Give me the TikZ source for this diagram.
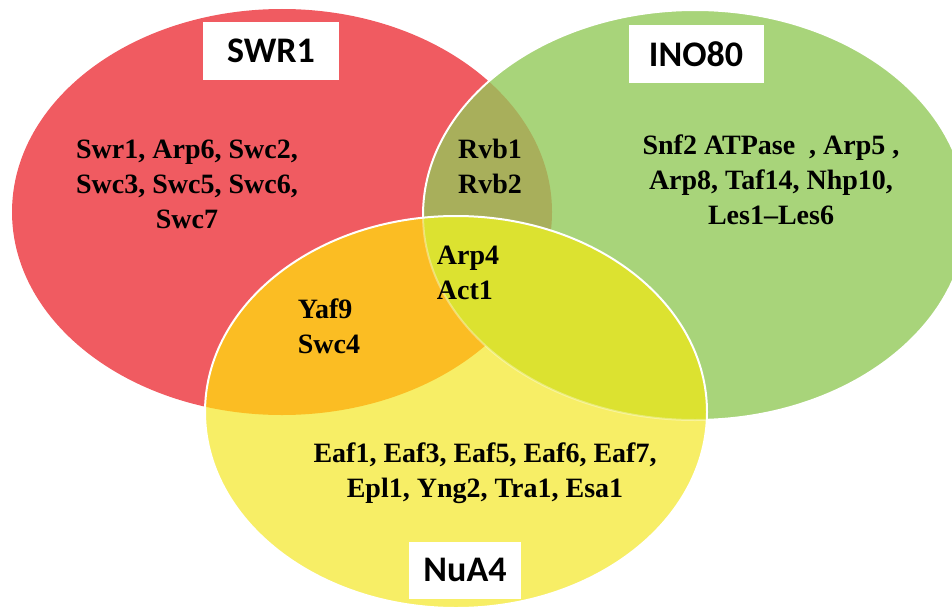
\documentclass[tikz,border=0pt]{standalone}
\usepackage{fontspec}
\setmainfont{Liberation Serif}
\newfontfamily\boxfont{Carlito}
\definecolor{swrred}{HTML}{F05B61}
\definecolor{inogreen}{HTML}{A8D47A}
\definecolor{nuayellow}{HTML}{F7EE66}
\definecolor{swrnua}{HTML}{FBBD23}
\definecolor{swrino}{HTML}{A8AF5B}
\definecolor{inonua}{HTML}{DCE230}
\begin{document}
\begin{tikzpicture}[x=1pt, y=-1pt,
    every node/.style={font=\bfseries\fontsize{28}{35}\selectfont, align=center},
    swrset/.style={insert path={(282,212) ellipse [x radius=270, y radius=203]}},
    inoset/.style={insert path={(695,215) ellipse [x radius=272, y radius=205]}},
    nuaset/.style={insert path={(456,412) ellipse [x radius=251, y radius=196]}},
    edge/.style={draw=white, line width=2pt},
    setname/.style={fill=white, font=\boxfont\bfseries\fontsize{36}{40}\selectfont,
      minimum width=136pt, minimum height=57pt, inner sep=0pt}]
    \useasboundingbox (0,0) rectangle (952,610);
    \clip (0,0) rectangle (952,610);
    % the three sets
    \fill[swrred, swrset];
    \fill[inogreen, inoset];
    \begin{scope}
      \clip[swrset];
      \fill[swrino, inoset];
    \end{scope}
    \path[edge, inoset];
    \fill[nuayellow, nuaset];
    \begin{scope}
      \clip[nuaset];
      \fill[swrnua, swrset];
      \fill[inonua, inoset];
      \path[edge, draw opacity=0.35, inoset];
    \end{scope}
    \path[edge, nuaset];
    % set names
    \node[setname] (swr) at (271, 51) {SWR1};
    \node[setname, minimum width=135pt] (ino) at (696, 54) {INO80};
    \node[setname, minimum width=112pt] (nua) at (465, 570) {NuA4};
    % members
    \node (swronly) at (187, 184) {Swr1, Arp6, Swc2,\\Swc3, Swc5, Swc6,\\Swc7};
    \node (inoonly) at (771, 180) {Snf2 ATPase\ \ , Arp5 ,\\Arp8, Taf14, Nhp10,\\Les1--Les6};
    \node (nuaonly) at (485, 473) {Eaf1, Eaf3, Eaf5, Eaf6, Eaf7,\\Epl1, Yng2, Tra1, Esa1};
    \node[align=left] (rvb) at (490, 166) {Rvb1\\Rvb2};
    \node[align=left] (arp) at (468, 273) {Arp4\\Act1};
    \node[align=left] (yaf) at (329, 326) {Yaf9\\Swc4};
\end{tikzpicture}
\end{document}
